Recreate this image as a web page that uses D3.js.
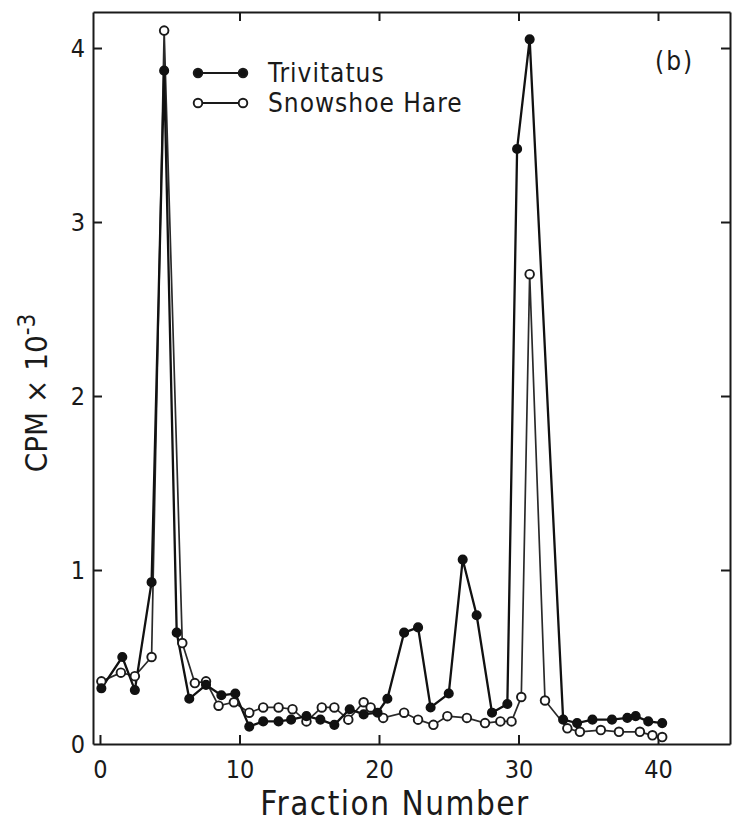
<!DOCTYPE html>
<html>
<head>
<meta charset="utf-8">
<script src="https://cdn.jsdelivr.net/npm/d3@7"></script>
<style>
  body { margin: 0; background: #fff; }
  text { font-family: "DejaVu Sans Condensed", "DejaVu Sans", "Liberation Sans", sans-serif; fill: #1a1a1a; }
</style>
</head>
<body>
<div id="chart"></div>
<script>
// fraction numbers and CPM x 10^-3
var trivFrac = [0.1, 1.6, 2.5, 3.7, 4.6, 5.5, 6.4, 7.6, 8.7, 9.7, 10.7, 11.7, 12.8, 13.7, 14.8, 15.8, 16.8, 17.9, 18.9, 19.9,
                20.6, 21.8, 22.8, 23.7, 25.0, 26.0, 27.0, 28.1, 29.2, 29.9, 30.8, 33.2, 34.2, 35.3, 36.7, 37.8, 38.4, 39.3, 40.3];
var trivCpm  = [0.32, 0.50, 0.31, 0.93, 3.87, 0.64, 0.26, 0.34, 0.28, 0.29, 0.10, 0.13, 0.13, 0.14, 0.16, 0.14, 0.11, 0.20, 0.17, 0.18,
                0.26, 0.64, 0.67, 0.21, 0.29, 1.06, 0.74, 0.18, 0.23, 3.42, 4.05, 0.14, 0.12, 0.14, 0.14, 0.15, 0.16, 0.13, 0.12];

var hareFrac = [0.1, 1.5, 2.5, 3.7, 4.6, 5.9, 6.8, 7.6, 8.5, 9.6, 10.7, 11.7, 12.8, 13.8, 14.8, 15.9, 16.8, 17.8, 18.9, 19.4,
                20.3, 21.8, 22.8, 23.9, 24.9, 26.3, 27.6, 28.7, 29.5, 30.2, 30.8, 31.9, 33.5, 34.4, 35.9, 37.2, 38.7, 39.6, 40.3];
var hareCpm  = [0.36, 0.41, 0.39, 0.50, 4.10, 0.58, 0.35, 0.36, 0.22, 0.24, 0.18, 0.21, 0.21, 0.20, 0.13, 0.21, 0.21, 0.14, 0.24, 0.21,
                0.15, 0.18, 0.14, 0.11, 0.16, 0.15, 0.12, 0.13, 0.13, 0.27, 2.70, 0.25, 0.09, 0.07, 0.08, 0.07, 0.07, 0.05, 0.04];

var xTicks = [0, 10, 20, 30, 40];
var yTicks = [0, 1, 2, 3, 4];

var margin = {top: 12, right: 3, bottom: 80, left: 93},
    width = 733 - margin.left - margin.right,
    height = 824 - margin.top - margin.bottom;

var svg = d3.select("#chart")
    .append("svg")
    .attr("width", 733)
    .attr("height", 824)
    .append("g")
    .attr("transform", "translate(" + margin.left + "," + margin.top + ")");

var x = d3.scaleLinear().domain([-0.5, 45.16]).range([0, width]);
var y = d3.scaleLinear().domain([0, 4.207]).range([height, 0]);

// axes: ticks point inward on all four sides
function styleAxis(g) {
    g.selectAll(".domain").attr("stroke", "#1a1a1a").attr("stroke-width", 2);
    g.selectAll(".tick line").attr("stroke", "#1a1a1a").attr("stroke-width", 2);
    g.selectAll(".tick text").style("font-size", "25px").attr("fill", "#1a1a1a");
}

svg.append("g")
    .attr("transform", "translate(0," + height + ")")
    .call(d3.axisBottom(x).tickValues(xTicks).tickFormat(d3.format("d"))
        .tickSizeInner(-9).tickSizeOuter(0).tickPadding(16))
    .call(styleAxis);

svg.append("g")
    .call(d3.axisTop(x).tickValues(xTicks.slice(1)).tickSizeInner(-9).tickSizeOuter(0).tickFormat(""))
    .call(styleAxis);

svg.append("g")
    .call(d3.axisLeft(y).tickValues(yTicks).tickFormat(d3.format("d"))
        .tickSizeInner(-9).tickSizeOuter(0).tickPadding(8))
    .call(styleAxis)
    .selectAll(".tick line").filter(function(d) { return d === 0; }).remove();

svg.append("g")
    .attr("transform", "translate(" + width + ",0)")
    .call(d3.axisRight(y).tickValues(yTicks.slice(1)).tickSizeInner(-9).tickSizeOuter(0).tickFormat(""))
    .call(styleAxis);

// series
var line = d3.line()
    .x(function(d) { return x(d[0]); })
    .y(function(d) { return y(d[1]); });

var hare = d3.zip(hareFrac, hareCpm);
var triv = d3.zip(trivFrac, trivCpm);

svg.append("path")
    .datum(hare)
    .attr("fill", "none")
    .attr("stroke", "#2a2a2a")
    .attr("stroke-width", 1.7)
    .attr("d", line);

svg.append("path")
    .datum(triv)
    .attr("fill", "none")
    .attr("stroke", "#111")
    .attr("stroke-width", 2.3)
    .attr("d", line);

svg.selectAll(".hare")
    .data(hare)
    .enter()
    .append("circle")
    .attr("cx", function(d) { return x(d[0]); })
    .attr("cy", function(d) { return y(d[1]); })
    .attr("r", 4.3)
    .attr("fill", "#fff")
    .attr("stroke", "#1a1a1a")
    .attr("stroke-width", 1.9);

svg.selectAll(".triv")
    .data(triv)
    .enter()
    .append("circle")
    .attr("cx", function(d) { return x(d[0]); })
    .attr("cy", function(d) { return y(d[1]); })
    .attr("r", 4.3)
    .attr("fill", "#111")
    .attr("stroke", "#111")
    .attr("stroke-width", 1.5);

// legend
var legend = [
    {name: "Trivitatus", fill: "#111", y: 61},
    {name: "Snowshoe Hare", fill: "#fff", y: 91}
];
var lg = svg.selectAll(".legend")
    .data(legend)
    .enter()
    .append("g")
    .attr("transform", function(d) { return "translate(105," + d.y + ")"; });
lg.append("line")
    .attr("x1", 0).attr("x2", 45)
    .attr("stroke", "#1a1a1a").attr("stroke-width", 2.2);
lg.selectAll("circle")
    .data(function(d) { return [d, d]; })
    .enter()
    .append("circle")
    .attr("cx", function(d, i) { return i * 45; })
    .attr("r", 4.3)
    .attr("fill", function(d) { return d.fill; })
    .attr("stroke", "#1a1a1a")
    .attr("stroke-width", 1.9);
lg.append("text")
    .attr("x", 70)
    .attr("y", 9)
    .style("font-size", "26px")
    .style("letter-spacing", "1px")
    .text(function(d) { return d.name; });

// panel tag
svg.append("text")
    .attr("x", 562)
    .attr("y", 58)
    .style("font-size", "26px")
    .style("letter-spacing", "2px")
    .text("(b)");

// axis titles
svg.append("text")
    .attr("x", 302)
    .attr("y", height + 71)
    .attr("text-anchor", "middle")
    .style("font-size", "33px")
    .style("letter-spacing", "1.5px")
    .text("Fraction Number");

var yl = svg.append("text")
    .attr("transform", "translate(" + (47 - margin.left) + "," + (393 - margin.top) + ") rotate(-90)")
    .attr("text-anchor", "middle")
    .style("font-size", "31px");
yl.append("tspan").text("CPM \u00d7 10");
yl.append("tspan").attr("dy", -12).style("font-size", "24px").text("-3");
</script>
</body>
</html>
